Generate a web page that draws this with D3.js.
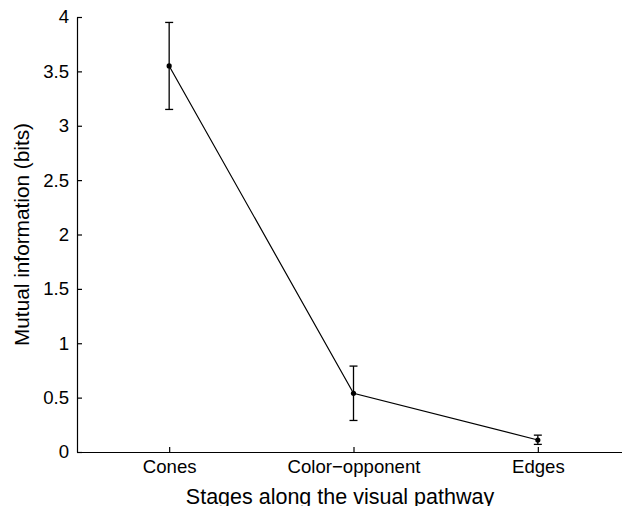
<!DOCTYPE html>
<html>
<head>
<meta charset="utf-8">
<script src="https://cdn.jsdelivr.net/npm/d3@7"></script>
<style>
  body { margin: 0; background: #fff; }
  svg { display: block; font-family: "Liberation Sans", Arial, sans-serif; }
  .axis path, .axis line { stroke: #000; stroke-width: 1.2; }
  .axis text { font-size: 18.6px; fill: #000; }
</style>
</head>
<body>
<script>
var stages = ["Cones", "Color\u2212opponent", "Edges"];
var info = [3.55, 0.54, 0.11];
var errLow = [3.15, 0.29, 0.07];
var errHigh = [3.95, 0.79, 0.155];
var yTicks = [0, 0.5, 1, 1.5, 2, 2.5, 3, 3.5, 4];

var width = 622, height = 506;
var margin = { top: 17, right: -8, bottom: 54, left: 77 };
var w = width - margin.left - margin.right,
    h = height - margin.top - margin.bottom;

var svg = d3.select("body").append("svg")
  .attr("width", width)
  .attr("height", height);

var g = svg.append("g")
  .attr("transform", "translate(" + margin.left + "," + margin.top + ")");

var xScale = d3.scaleLinear().domain([0.5, 3.5]).range([0, w]);
var yScale = d3.scaleLinear().domain([0, 4]).range([h, 0]);

var data = stages.map(function (s, i) {
  return { x: i + 1, y: info[i], lo: errLow[i], hi: errHigh[i] };
});

// axes, ticks pointing inward
g.append("g")
  .attr("class", "x axis")
  .attr("transform", "translate(0," + h + ")")
  .call(d3.axisBottom(xScale)
    .tickValues([1, 2, 3])
    .tickFormat(function (d) { return stages[d - 1]; })
    .tickSizeInner(-5).tickSizeOuter(0).tickPadding(8));

g.append("g")
  .attr("class", "y axis")
  .call(d3.axisLeft(yScale)
    .tickValues(yTicks)
    .tickFormat(d3.format("~g"))
    .tickSizeInner(-5).tickSizeOuter(0).tickPadding(8));

// error bars
var cap = 4;
var eb = g.selectAll(".err").data(data).enter().append("g").attr("class", "err")
  .attr("stroke", "#000").attr("stroke-width", 1.3);
eb.append("line")
  .attr("x1", function (d) { return xScale(d.x); })
  .attr("x2", function (d) { return xScale(d.x); })
  .attr("y1", function (d) { return yScale(d.lo); })
  .attr("y2", function (d) { return yScale(d.hi); });
eb.append("line")
  .attr("x1", function (d) { return xScale(d.x) - cap; })
  .attr("x2", function (d) { return xScale(d.x) + cap; })
  .attr("y1", function (d) { return yScale(d.hi); })
  .attr("y2", function (d) { return yScale(d.hi); });
eb.append("line")
  .attr("x1", function (d) { return xScale(d.x) - cap; })
  .attr("x2", function (d) { return xScale(d.x) + cap; })
  .attr("y1", function (d) { return yScale(d.lo); })
  .attr("y2", function (d) { return yScale(d.lo); });

var line = d3.line()
  .x(function (d) { return xScale(d.x); })
  .y(function (d) { return yScale(d.y); });

g.append("path")
  .datum(data)
  .attr("d", line)
  .attr("fill", "none")
  .attr("stroke", "#000")
  .attr("stroke-width", 1.2);

g.selectAll(".dot")
  .data(data)
  .enter().append("circle")
  .attr("class", "dot")
  .attr("cx", function (d) { return xScale(d.x); })
  .attr("cy", function (d) { return yScale(d.y); })
  .attr("r", 2.6)
  .attr("fill", "#000");

// axis titles
svg.append("text")
  .attr("x", 340)
  .attr("y", 504)
  .attr("text-anchor", "middle")
  .style("font-size", "21.5px")
  .text("Stages along the visual pathway");

svg.append("text")
  .attr("transform", "translate(29," + (margin.top + h / 2) + ") rotate(-90)")
  .attr("text-anchor", "middle")
  .style("font-size", "20.8px")
  .text("Mutual information (bits)");
</script>
</body>
</html>
